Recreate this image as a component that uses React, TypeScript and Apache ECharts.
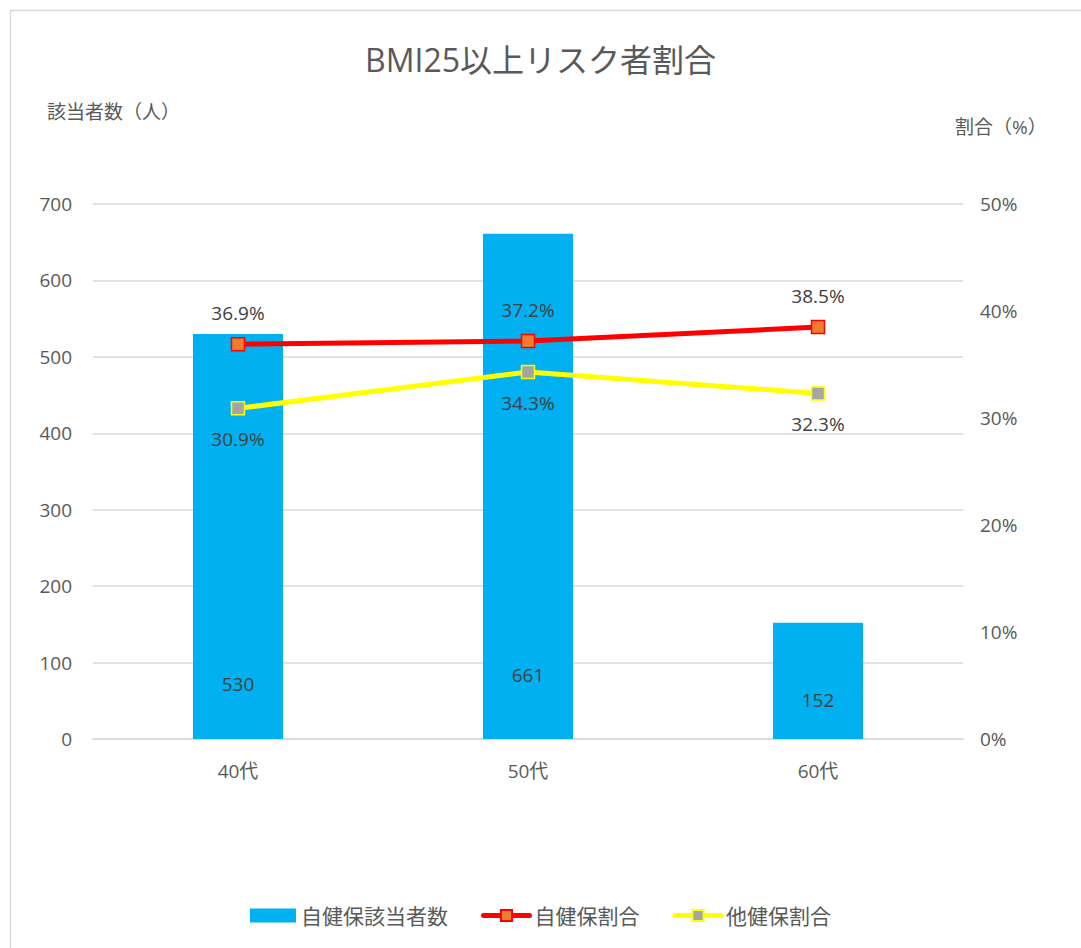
import React, { useEffect, useRef } from "react";
import * as echarts from "echarts";

const categories = ["40代", "50代", "60代"];
const ownCounts = [530, 661, 152];
const ownRates = [0.369, 0.372, 0.385];
const otherRates = [0.309, 0.343, 0.323];
const countLabelDistances = [46, 55, 30];

const FONT = '"Open Sans", "Noto Sans CJK JP", sans-serif';
const TXT = "#595959";
const LBL = "#404040";

export default function App() {
  const ref = useRef<HTMLDivElement>(null);
  useEffect(() => {
    const chart = echarts.init(ref.current!, null, { renderer: "svg" });
    chart.setOption({
      animation: false,
      textStyle: { fontFamily: FONT, color: TXT },
      title: {
        text: "BMI25以上リスク者割合",
        left: "center",
        top: 38,
        textStyle: { fontFamily: FONT, fontSize: 32, fontWeight: "normal", color: TXT },
      },
      graphic: [
        {
          type: "rect",
          shape: { x: 10.5, y: 10.5, width: 1100, height: 1000 },
          style: { fill: "none", stroke: "#D9D9D9", lineWidth: 1.5 },
          silent: true,
        },
        {
          type: "text",
          x: 47,
          y: 102,
          style: { text: "該当者数（人）", font: `19px ${FONT}`, fill: TXT },
        },
        {
          type: "text",
          x: 955,
          y: 117,
          style: { text: "割合（%）", font: `19px ${FONT}`, fill: TXT },
        },
      ],
      legend: {
        bottom: 17,
        left: "center",
        itemWidth: 46,
        itemHeight: 14,
        itemGap: 33,
        textStyle: { fontFamily: FONT, fontSize: 21, color: TXT },
        data: [
          { name: "自健保該当者数", icon: "rect" },
          { name: "自健保割合", lineStyle: { width: 5, color: "#FF0000", cap: "round" } },
          { name: "他健保割合", lineStyle: { width: 5, color: "#FFFF00", cap: "round" } },
        ],
      },
      grid: { left: 93, right: 118, top: 204, bottom: 209 },
      xAxis: {
        type: "category",
        data: categories,
        axisTick: { show: false },
        axisLine: { lineStyle: { color: "#D9D9D9", width: 1.5 } },
        axisLabel: { fontFamily: FONT, fontSize: 19, color: TXT, margin: 22 },
      },
      yAxis: [
        {
          type: "value",
          min: 0,
          max: 700,
          interval: 100,
          axisLabel: { fontFamily: FONT, fontSize: 19, color: TXT, margin: 21 },
          splitLine: { lineStyle: { color: "#D9D9D9", width: 1.5 } },
          axisLine: { show: false },
          axisTick: { show: false },
        },
        {
          type: "value",
          min: 0,
          max: 0.5,
          interval: 0.1,
          position: "right",
          axisLabel: {
            fontFamily: FONT,
            fontSize: 19,
            color: TXT,
            margin: 17,
            formatter: (v: number) => `${Math.round(v * 100)}%`,
          },
          splitLine: { show: false },
          axisLine: { show: false },
          axisTick: { show: false },
        },
      ],
      series: [
        {
          name: "自健保該当者数",
          type: "bar",
          yAxisIndex: 0,
          barWidth: 90,
          itemStyle: { color: "#00B0F0" },
          data: ownCounts.map((v, i) => ({
            value: v,
            label: { distance: countLabelDistances[i] },
          })),
          label: {
            show: true,
            position: "insideBottom",
            fontFamily: FONT,
            fontSize: 19,
            color: LBL,
          },
        },
        {
          name: "自健保割合",
          type: "line",
          yAxisIndex: 1,
          data: ownRates,
          symbol: "rect",
          symbolSize: 13,
          lineStyle: { color: "#FF0000", width: 5 },
          itemStyle: { color: "#ED7D31", borderColor: "#FF0000", borderWidth: 1.5 },
          label: {
            show: true,
            position: "top",
            distance: 14,
            fontFamily: FONT,
            fontSize: 19,
            color: LBL,
            formatter: (p: any) => `${(p.value * 100).toFixed(1)}%`,
          },
          z: 3,
        },
        {
          name: "他健保割合",
          type: "line",
          yAxisIndex: 1,
          data: otherRates,
          symbol: "rect",
          symbolSize: 13,
          lineStyle: { color: "#FFFF00", width: 5 },
          itemStyle: { color: "#A5A5A5", borderColor: "#FFFF00", borderWidth: 1.5 },
          label: {
            show: true,
            position: "bottom",
            distance: 14,
            fontFamily: FONT,
            fontSize: 19,
            color: LBL,
            formatter: (p: any) => `${(p.value * 100).toFixed(1)}%`,
          },
          z: 3,
        },
      ],
    });
    return () => chart.dispose();
  }, []);
  return (
    <div
      ref={ref}
      style={{ position: "absolute", left: 0, top: 0, width: 1081, height: 948, background: "#fff" }}
    />
  );
}
